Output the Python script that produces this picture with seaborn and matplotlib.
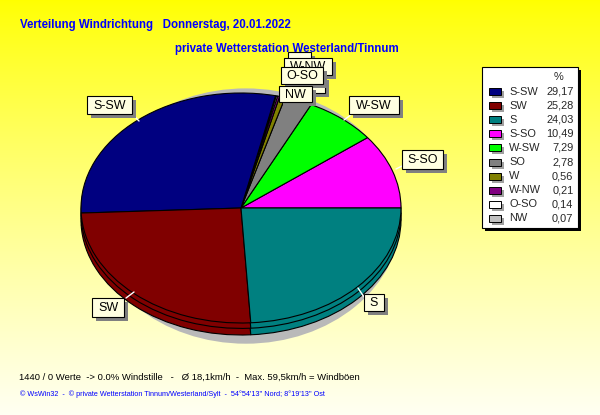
import numpy as np
import pandas as pd
import seaborn as sns
import matplotlib.pyplot as plt
from matplotlib.patches import Rectangle, Ellipse

# wind direction shares (legend order)
directions = ["S-SW", "SW", "S", "S-SO", "W-SW", "SO", "W", "W-NW", "O-SO", "NW"]
percent = [29.17, 25.28, 24.03, 10.49, 7.29, 2.78, 0.56, 0.21, 0.14, 0.07]
colors = ["#000080", "#800000", "#008080", "#FF00FF", "#00FF00",
          "#808080", "#808000", "#800080", "#FFFFFF", "#C0C0C0"]
# order of the slices around the pie, counter-clockwise from east
pie_order = ["S-SO", "W-SW", "SO", "W", "W-NW", "O-SO", "NW", "S-SW", "SW", "S"]

title = "Verteilung Windrichtung   Donnerstag, 20.01.2022"
subtitle = "private Wetterstation Westerland/Tinnum"
info_line = "1440 / 0 Werte  -> 0.0% Windstille   -   \u00d8 18,1km/h  -  Max. 59,5km/h = Windb\u00f6en"
credit_line = ("\u00a9 WsWin32  -  \u00a9 private Wetterstation Tinnum/Westerland/Sylt  -  "
               "54\u00b054'13'' Nord; 8\u00b019'13'' Ost")

# label boxes in pixels (x0, y0, w, h, text shown), back to front
label_boxes = {
    "W": (288, 52, 23, 17, False),
    "W-NW": (284, 58, 48, 17, True),
    "SO": (292, 76, 33, 17, False),
    "O-SO": (281, 67, 42, 17, True),
    "NW": (279, 86, 33, 16, True),
    "S-SW": (87, 96, 45, 18, True),
    "W-SW": (349, 96, 50, 18, True),
    "S-SO": (402, 150, 41, 19, True),
    "SW": (92, 298, 32, 19, True),
    "S": (364, 294, 20, 17, True),
}
leaders = {
    "S-SW": ((132, 114), (139, 121)),
    "W-SW": ((352, 114), (344, 120)),
    "S-SO": ((402, 166), (396, 169)),
    "SW": ((126, 298), (134, 292)),
    "S": ((364, 297), (358, 288)),
}

df = pd.DataFrame({"direction": directions, "percent": percent, "color": colors})
pie_df = df.set_index("direction").loc[pie_order]

sns.set_style("white")
plt.rcParams["font.family"] = ["Liberation Sans", "DejaVu Sans"]

W, H = 600, 415
fig = plt.figure(figsize=(6, 4.15), dpi=100)

# background gradient
bg = fig.add_axes([0, 0, 1, 1])
grad = np.linspace(0, 1, 256) ** 0.85
img = np.ones((256, 1, 3))
img[:, 0, 2] = grad * 0.95
bg.imshow(img, aspect="auto", extent=(0, 1, 0, 1))
bg.set_axis_off()

# pie axes: unit circle maps to an ellipse of 160 x 114 px around (241, 208)
cx, cy, rx, ry = 241, 208, 160, 115
pa = fig.add_axes([0, 0, 1, 1])
pa.patch.set_alpha(0)
depth = 12 / ry

pa.add_patch(Ellipse((0.03, -0.07), 1.94, 2.22, color="#B9B9B9", lw=0, zorder=0))
for k, off in enumerate([-depth, -depth * 0.45, 0.0]):
    wedges, _ = pa.pie(pie_df["percent"], colors=pie_df["color"], startangle=0,
                       counterclock=True, center=(0, off), radius=1.0,
                       wedgeprops=dict(edgecolor="black", linewidth=0.8))
    for w in wedges:
        w.set_zorder(1 + k)
pa.set_aspect("auto")
pa.set_xlim((0 - cx) / rx, (W - cx) / rx)
pa.set_ylim((cy - H) / ry, (cy - 0) / ry)
pa.set_axis_off()

# overlay in pixel coordinates
ov = fig.add_axes([0, 0, 1, 1])
ov.patch.set_alpha(0)
ov.set_xlim(0, W)
ov.set_ylim(H, 0)
ov.set_axis_off()

for name, ((x1, y1), (x2, y2)) in leaders.items():
    ov.plot([x1, x2], [y1, y2], color="white", lw=1, zorder=2)

for z, (name, (x0, y0, bw, bh, shown)) in enumerate(label_boxes.items()):
    zz = 3 + z * 0.01
    ov.add_patch(Rectangle((x0 + 4, y0 + 4), bw, bh, fc="#808080", ec="none", zorder=zz))
    ov.add_patch(Rectangle((x0, y0), bw, bh, fc="#FFFFE1", ec="black", lw=0.8, zorder=zz))
    if shown:
        ov.text(x0 + bw / 2, y0 + bh / 2 + 0.5, name, ha="center", va="center",
                fontsize=9, color="black", zorder=zz)

# legend
lx, ly, lw_, lh = 482, 67, 96, 161
ov.add_patch(Rectangle((lx + 3, ly + 3), lw_, lh, fc="black", ec="none", zorder=4))
ov.add_patch(Rectangle((lx, ly), lw_, lh, fc="white", ec="black", lw=0.8, zorder=4))
ov.text(558, 77, "%", ha="center", va="center", fontsize=7.9, zorder=5)
for i, row in df.iterrows():
    yy = 91.7 + i * 14.07
    ov.add_patch(Rectangle((489 + 3, yy - 3.5 + 3), 12, 7, fc="#A0A0A0", ec="none", zorder=5))
    ov.add_patch(Rectangle((489, yy - 3.5), 12, 7, fc=row["color"], ec="black", lw=0.7, zorder=5))
    ov.text(509, yy, row["direction"], ha="left", va="center", fontsize=7.9, zorder=5)
    ov.text(573.5, yy, f"{row['percent']:.2f}".replace(".", ","), ha="right",
            va="center", fontsize=7.9, zorder=5)

ov.text(20, 25, title, ha="left", va="center", fontsize=8.3, fontweight="bold",
        color="#0000FF", zorder=6)
ov.text(175, 49, subtitle, ha="left", va="center", fontsize=8.3, fontweight="bold",
        color="#0000FF", zorder=6)
ov.text(19, 377, info_line, ha="left", va="center", fontsize=6.8, color="black", zorder=6)
ov.text(20, 394.5, credit_line, ha="left", va="center", fontsize=5.2, color="#0000FF", zorder=6)

fig.savefig("out.png", dpi=100)
